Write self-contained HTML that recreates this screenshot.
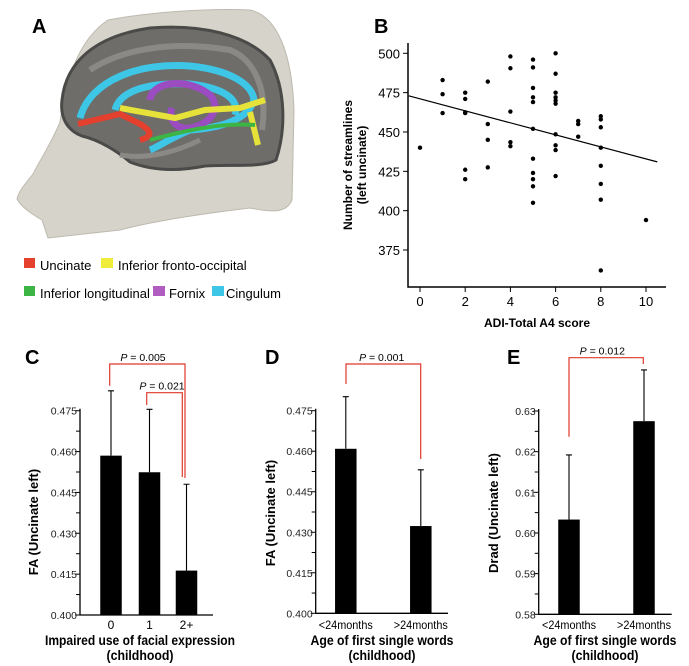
<!DOCTYPE html>
<html><head><meta charset="utf-8"><style>
html,body{margin:0;padding:0;background:#fff;overflow:hidden;}
svg{display:block;font-family:"Liberation Sans",Arial,sans-serif;}
.narrow{font-family:"Liberation Sans Narrow","Liberation Sans",sans-serif;}
</style></head><body>
<svg id="fig" width="689" height="666" viewBox="0 0 689 666">
<g id="panelA">
  <path d="M48,238 L42,220 C32,214 22,208 17,199 C19,190 27,182 33,174 C40,160 52,142 60,122 C66,80 78,40 108,20 C150,12 210,8 250,10 C278,16 292,55 294,110 L292,200 C286,214 270,212 250,208 C200,214 150,222 120,230 Z" fill="#d6d3ca" stroke="#bdb9ae"/>
  <path d="M62,100 C66,62 95,36 150,28 C200,24 246,34 270,60 C286,90 286,130 276,160 C262,168 232,164 205,166 C175,172 150,170 130,162 C118,152 100,140 82,136 C66,130 60,116 62,100 Z" fill="#6e6d6a" stroke="#4a4a48" stroke-width="3"/>
  <path d="M90,70 C120,50 170,40 230,50 C255,60 268,90 262,130" fill="none" stroke="#8a8986" stroke-width="6"/>
  <path d="M120,155 C150,160 180,150 200,140" fill="none" stroke="#8a8986" stroke-width="5"/>
  <path d="M80,118 C90,80 140,62 190,66 C230,70 252,84 254,100 C248,120 220,128 190,130 C170,138 160,146 150,150 M115,110 C120,90 150,82 190,84 C225,88 240,100 235,115" fill="none" stroke="#3ec6e6" stroke-width="7"/>
  <path d="M150,100 C152,80 190,78 210,95 C222,108 210,125 190,128 C175,130 168,118 172,108" fill="none" stroke="#9a4cc0" stroke-width="7"/>
  <path d="M120,108 L175,118 L205,110 L240,108 L265,100 M250,112 L258,145" fill="none" stroke="#e6e23a" stroke-width="6"/>
  <path d="M78,124 L120,114 L140,124 C150,130 155,136 140,140" fill="none" stroke="#e5402e" stroke-width="6"/>
  <path d="M150,140 C180,132 220,122 255,125" fill="none" stroke="#3cb544" stroke-width="4"/>
  <text x="32" y="33" font-size="20" font-weight="bold">A</text>
  <g font-size="13">
    <g><rect x="24" y="258" width="11" height="10" fill="#e5402e"/><text x="40" y="270">Uncinate</text></g>
    <g><rect x="101" y="258" width="12" height="10" fill="#f0ec3a"/><text x="118" y="270">Inferior fronto-occipital</text></g>
    <g><rect x="24" y="286" width="11" height="10" fill="#3cb544"/><text x="40" y="298">Inferior longitudinal</text></g>
    <g><rect x="153" y="286" width="12" height="10" fill="#b05cc0"/><text x="169" y="298">Fornix</text></g>
    <g><rect x="212" y="286" width="12" height="10" fill="#3ec6e6"/><text x="226" y="298">Cingulum</text></g>
  </g>
</g>
<g id="panelB"></g>
<g id="panelC"></g>
<g id="panelD"></g>
<g id="panelE"></g>
</svg>
<script>
// ---- Panel B data ----
const scatterX = [0,1,1,1,2,2,2,2,2,2,3,3,3,3,4,4,4,4,4,5,5,5,5,5,5,5,5,5,5,5,6,6,6,6,6,6,6,6,6,6,7,7,7,8,8,8,8,8,8,8,8,10];
const scatterY = [440,483,474,462,475,471,462.5,462,426,420,482,455,445,427.5,498,490.5,463,443.5,441,496,491,478,472,469,452,433,424,420,415.5,405,500,487,475,472,470,468,448.5,441.5,438.5,422,457,455,447,460,458,453,440,428.5,417,407,362,394];
const regLine = [[-0.5,473],[10.5,431]];
const bXTicks = [0,2,4,6,8,10];
const bYTicks = [375,400,425,450,475,500];

// ---- Bar panel data ----
const cCategories = ["0","1","2+"];
const cMeans = [0.4585,0.4524,0.4163];
const cErrors = [0.0238,0.0231,0.0317];
const cTicks = ["0.400","0.415","0.430","0.445","0.460","0.475"];
const dCategories = ["<24months",">24months"];
const dMeans = [0.4609,0.4323];
const dErrors = [0.0193,0.0208];
const dTicks = ["0.400","0.415","0.430","0.445","0.460","0.475"];
const eCategories = ["<24months",">24months"];
const eMeans = [0.6033,0.6275];
const eErrors = [0.0159,0.0126];
const eTicks = ["0.58","0.59","0.60","0.61","0.62","0.63"];

const NS="http://www.w3.org/2000/svg";
function mk(parent,tag,attrs,text){const e=document.createElementNS(NS,tag);for(const k in attrs)e.setAttribute(k,attrs[k]);if(text!==undefined)e.textContent=text;parent.appendChild(e);return e;}

// ---- Panel B ----
(function(){
  const g=document.getElementById('panelB');
  const bx=v=>420+v*22.6, by=v=>53.3+(500-v)*1.5736;
  let t=mk(g,'text',{x:374,y:33,'font-size':20,'font-weight':'bold'},'B');
  
  
  let ax=mk(g,'path',{d:'M408,43 L408,287 L666,287',fill:'none',stroke:'#000','stroke-width':1.5});
  
  
  bYTicks.forEach(v=>{
    mk(g,'line',{x1:403,x2:408,y1:by(v),y2:by(v),stroke:'#000'});
    const l=mk(g,'text',{x:400,y:by(v)+5,'font-size':13,'text-anchor':'end'},String(v));
    
    
  });
  bXTicks.forEach(v=>{
    mk(g,'line',{x1:bx(v),x2:bx(v),y1:287,y2:292,stroke:'#000'});
    const l=mk(g,'text',{x:bx(v),y:306,'font-size':13,'text-anchor':'middle'},String(v));
    
    
  });
  scatterX.forEach((x,i)=>{
    const c=mk(g,'circle',{cx:bx(x),cy:by(scatterY[i]),r:2.2,fill:'#000'});
    
    
  });
  const rl=mk(g,'line',{x1:bx(regLine[0][0]),y1:by(regLine[0][1]),x2:bx(regLine[1][0]),y2:by(regLine[1][1]),stroke:'#000','stroke-width':1.2});
  
  
  const xt=mk(g,'text',{x:537,y:327,'font-size':12,'font-weight':'bold','text-anchor':'middle'},'ADI-Total A4 score');
  
  
  const yt=mk(g,'text',{transform:'translate(358,165) rotate(-90)','font-size':12,'font-weight':'bold','text-anchor':'middle'});
  
  
  mk(yt,'tspan',{x:0,dy:-6},'Number of streamlines');
  mk(yt,'tspan',{x:0,dy:14},'(left uncinate)');
})();

// ---- Bar panels ----
function barPanel(id,o){
  const g=document.getElementById(id);
  const y=v=>o.y0-(v-o.vmin)/(o.vmax-o.vmin)*(o.y0-o.yTop);
  const L=mk(g,'text',{x:o.letterX,y:364,'font-size':20,'font-weight':'bold'},o.letter);
  
  
  const ax=mk(g,'path',{d:`M${o.ax},${o.yTop-2} L${o.ax},${o.y0} L${o.axEnd},${o.y0}`,fill:'none',stroke:'#000','stroke-width':1.3});
  
  
  const n=o.ticks.length;
  for(let i=0;i<n;i++){
    const v=parseFloat(o.ticks[i]);
    mk(g,'line',{x1:o.ax-5,x2:o.ax,y1:y(v),y2:y(v),stroke:'#000'});
    const tl=mk(g,'text',{x:o.ax-3,y:y(v)+4,'font-size':10.5,'text-anchor':'end','class':'narrow',fill:'#222'},o.ticks[i]);
    
    
    if(i<n-1){const m=(v+parseFloat(o.ticks[i+1]))/2;mk(g,'line',{x1:o.ax-4,x2:o.ax,y1:y(m),y2:y(m),stroke:'#000'});}
  }
  o.cats.forEach((c,i)=>{
    const cx=o.cx[i];
    const b=mk(g,'rect',{x:cx-o.bw/2,y:y(o.means[i]),width:o.bw,height:o.y0-y(o.means[i]),fill:'#000'});
    
    
    const et=y(o.means[i]+o.errs[i]);
    const e=mk(g,'path',{d:`M${cx},${y(o.means[i])} L${cx},${et} M${cx-3},${et} L${cx+3},${et}`,stroke:'#000','stroke-width':1.1,fill:'none'});
    
    
    const attrs={x:cx,y:629,'font-size':12,'text-anchor':'middle','class':'narrow'};
    if(c.length>3){attrs.textLength=54;attrs.lengthAdjust='spacingAndGlyphs';}
    const tl=mk(g,'text',attrs,c);
    
    
  });
  const xt=mk(g,'text',{x:o.titleX,y:645,'font-size':14,'font-weight':'bold','text-anchor':'middle','class':'narrow',textLength:o.titleW,lengthAdjust:'spacingAndGlyphs'},o.xtitle);
  
  
  const xt2=mk(g,'text',{x:o.titleX,y:660,'font-size':14,'font-weight':'bold','text-anchor':'middle','class':'narrow',textLength:67,lengthAdjust:'spacingAndGlyphs'},'(childhood)');
  
  
  const yt=mk(g,'text',{transform:`translate(${o.ylabX},${o.ylabY}) rotate(-90)`,'font-size':13,'font-weight':'bold','text-anchor':'middle'},o.ytitle);
  
  
  o.brackets.forEach(br=>{
    const p=mk(g,'path',{d:`M${br[0]},${br[1]} L${br[0]},${br[2]} L${br[3]},${br[2]} L${br[3]},${br[4]}`,fill:'none',stroke:'#e0382c','stroke-width':1.2});
    
    
    const t=mk(g,'text',{x:br[5],y:br[2]-3,'font-size':10.5,'text-anchor':'middle','class':'narrow'});
    
    
    mk(t,'tspan',{'font-style':'italic'},'P');
    mk(t,'tspan',{},' = '+br[6]);
  });
}
barPanel('panelC',{letter:'C',letterX:25,ax:80,axEnd:213,y0:615,yTop:410.7,vmin:0.400,vmax:0.475,ticks:cTicks,cats:cCategories,means:cMeans,errs:cErrors,cx:[111,149.5,186.5],bw:21.5,titleX:140,titleW:190,xtitle:'Impaired use of facial expression',ytitle:'FA (Uncinate left)',ylabX:38,ylabY:522,
  brackets:[[109.7,385.7,364,185,478,143,'0.005'],[146.7,405,392.7,182.3,477,162,'0.021']]});
barPanel('panelD',{letter:'D',letterX:265,ax:315.7,axEnd:448,y0:613.3,yTop:410.7,vmin:0.400,vmax:0.475,ticks:dTicks,cats:dCategories,means:dMeans,errs:dErrors,cx:[345.8,420.8],bw:21.5,titleX:382,titleW:143,xtitle:'Age of first single words',ytitle:'FA (Uncinate left)',ylabX:275,ylabY:513,
  brackets:[[346,384,364,420.7,459,381.7,'0.001']]});
barPanel('panelE',{letter:'E',letterX:507,ax:538.7,axEnd:671.7,y0:614.3,yTop:411,vmin:0.58,vmax:0.63,ticks:eTicks,cats:eCategories,means:eMeans,errs:eErrors,cx:[569,644],bw:21.5,titleX:605,titleW:143,xtitle:'Age of first single words',ytitle:'Drad (Uncinate left)',ylabX:498,ylabY:513,
  brackets:[[569,436.7,357.7,643.3,364,602.3,'0.012']]});
</script>
</body></html>
